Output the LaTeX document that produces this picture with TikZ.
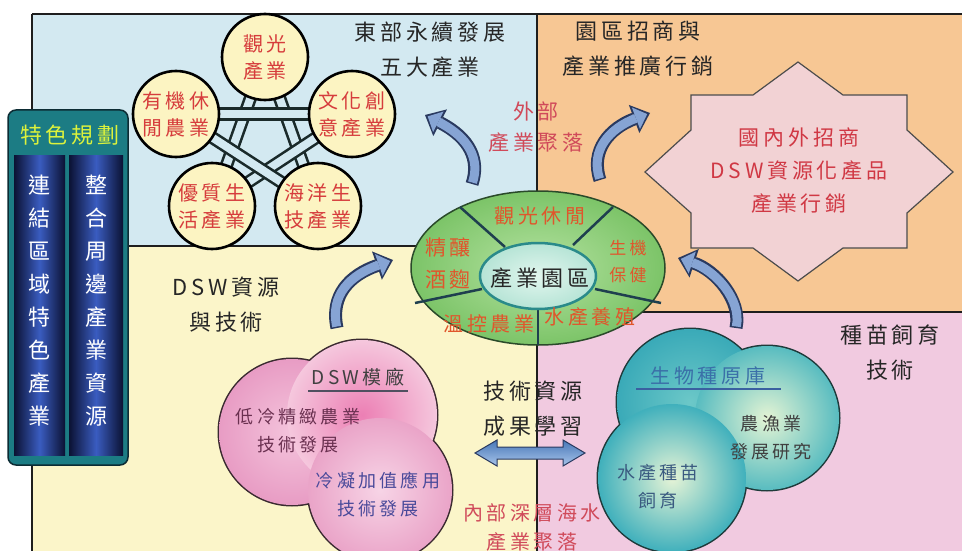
\documentclass[tikz,border=0pt]{standalone}
\usepackage{fontspec}
\newfontfamily\cjk[LetterSpace=18]{Noto Sans CJK TC}
\newfontfamily\cjkn{Noto Sans CJK TC}
\usetikzlibrary{arrows.meta}
\definecolor{qblue}{HTML}{D3E9F1}
\definecolor{qorange}{HTML}{F7C794}
\definecolor{qcream}{HTML}{FBF5C9}
\definecolor{qpink}{HTML}{F1CAE0}
\definecolor{cyel}{HTML}{FCF4C2}
\definecolor{tred}{HTML}{D63C3C}
\definecolor{ored}{HTML}{E0562C}
\definecolor{sred}{HTML}{D03844}
\definecolor{pred}{HTML}{D04A5A}
\definecolor{arrdark}{HTML}{2A3A60}
\definecolor{arrlight}{HTML}{86A4D4}
\definecolor{lineblk}{HTML}{1E1E1E}
\definecolor{starpink}{HTML}{F2D2D4}
\definecolor{stargreen}{HTML}{D6ECD2}
\definecolor{panelteal}{HTML}{1C7C84}
\definecolor{paneldark}{HTML}{0C2C34}
\definecolor{colnavy}{HTML}{0B1233}
\definecolor{colblue}{HTML}{3A5CC0}
\definecolor{ptitle}{HTML}{DCF23C}
\definecolor{elline}{HTML}{2A4A2A}
\definecolor{elin}{HTML}{B4E2A0}
\definecolor{elout}{HTML}{7CC468}
\definecolor{divdark}{HTML}{1F3F4F}
\definecolor{inline}{HTML}{2A8A8A}
\definecolor{inin}{HTML}{E2F6EE}
\definecolor{inout}{HTML}{B6E4D6}
\definecolor{pkline}{HTML}{3A2A30}
\definecolor{pkAi}{HTML}{F4C4DC}
\definecolor{pkAo}{HTML}{E89CC4}
\definecolor{pkBi}{HTML}{EC7FB4}
\definecolor{pkBo}{HTML}{F5C7DD}
\definecolor{pkDi}{HTML}{F7D4E6}
\definecolor{pkDo}{HTML}{EAA4C8}
\definecolor{tlline}{HTML}{1E3A3A}
\definecolor{tlEi}{HTML}{6CC8C8}
\definecolor{tlEo}{HTML}{3AAAB8}
\definecolor{tlFi}{HTML}{E4F4D4}
\definecolor{tlFo}{HTML}{58BCC0}
\definecolor{tlGi}{HTML}{E6F4D6}
\definecolor{tlGo}{HTML}{40B0BC}
\definecolor{dgray}{HTML}{404040}
\definecolor{ugray}{HTML}{505060}
\definecolor{lowc}{HTML}{6A3050}
\definecolor{condc}{HTML}{4A4A9A}
\definecolor{bioc}{HTML}{3A70A8}
\definecolor{biou}{HTML}{3A60A0}
\definecolor{seedc}{HTML}{3A5A80}
\definecolor{daTop}{HTML}{4878B8}
\definecolor{daBot}{HTML}{A8C4EA}
\definecolor{webline}{HTML}{1A2A2A}
\begin{document}
\begin{tikzpicture}[x=1pt,y=-1pt,
  ttl/.style={font=\cjk\fontsize{22}{35}\selectfont, align=center, inner sep=0pt, text=black!85},
  clab/.style={circle, draw=black, line width=2.6pt, fill=cyel, minimum size=86pt, inner sep=0pt, align=center, font=\cjk\fontsize{20}{27}\selectfont, text=tred},
  starline/.style={draw=webline, line width=2.6pt, double=qblue, double distance=8pt},
  elab/.style={font=\cjk\fontsize{20}{30}\selectfont, align=center, inner sep=0pt, text=ored},
  small/.style={font=\cjk\fontsize{18}{28}\selectfont, align=center, inner sep=0pt},
  vtxt/.style={font=\cjkn\fontsize{22}{33}\selectfont, align=center, inner sep=0pt, text=white},
  carrO/.style={line width=13pt, draw=arrdark, -{Triangle[width=30pt,length=17pt,line width=0pt]}},
  carrI/.style={line width=9pt, draw=arrlight, shorten >=3pt, shorten <=1.5pt, -{Triangle[width=23pt,length=12pt,line width=0pt]}},
  divider/.style={draw=lineblk, line width=1.2pt}
]
\useasboundingbox (0,0) rectangle (962,551);
\fill[white] (0,0) rectangle (962,551);
% quadrants
\fill[qblue] (32,14) rectangle (537,246);
\fill[qorange] (537,14) rectangle (962,312);
\fill[qcream] (32,246) rectangle (537,551);
\fill[qpink] (537,312) rectangle (962,551);
\coordinate (tl) at (32,14);
\coordinate (tr) at (962,14);
\coordinate (bl) at (32,551);
\coordinate (vt) at (537,14);
\coordinate (vb) at (537,551);
\coordinate (hl1) at (32,246);
\coordinate (hl2) at (537,246);
\coordinate (hr1) at (537,312);
\coordinate (hr2) at (962,312);
\draw[divider] (tl) -- (tr);
\draw[divider] (tl) -- (bl);
\draw[divider] (vt) -- (vb);
\draw[divider] (hl1) -- (hl2);
\draw[divider] (hr1) -- (hr2);

% pentagram
\coordinate (p1) at (265,57);
\coordinate (p2) at (352,114);
\coordinate (p3) at (318,206);
\coordinate (p4) at (212,206);
\coordinate (p5) at (176,114);
\draw[starline] (p1) -- (p3);
\draw[starline] (p1) -- (p4);
\draw[starline] (p2) -- (p4);
\draw[starline] (p2) -- (p5);
\draw[starline] (p3) -- (p5);
\node[clab] (c1) at (p1) {觀光\\產業};
\node[clab] (c2) at (p2) {文化創\\意產業};
\node[clab] (c3) at (p3) {海洋生\\技產業};
\node[clab] (c4) at (p4) {優質生\\活產業};
\node[clab] (c5) at (p5) {有機休\\閒農業};

\node[ttl] (t1) at (430,50) {東部永續發展\\五大產業};
\node[ttl] (t2) at (638,49) {園區招商與\\產業推廣行銷};
\node[ttl] (t3) at (226,305) {DSW資源\\與技術};
\node[ttl] (t4) at (890,353) {種苗飼育\\技術};
\node[ttl] (t5) at (533,409) {技術資源\\成果學習};
\node[ttl, text=pred, font=\cjk\fontsize{21}{31}\selectfont] (t6) at (536,127) {外部\\產業聚落};

% star
\path[draw=black!70, line width=1.2pt, top color=starpink, middle color=stargreen, bottom color=starpink]
  (798,62) -- (843,95) -- (907,95) -- (907,130) -- (953,172) -- (907,213) -- (907,248) -- (843,248)
  -- (798,281) -- (753,248) -- (691,248) -- (691,213) -- (645,172) -- (691,130) -- (691,95) -- (753,95) -- cycle;
\node[ttl, text=sred, font=\cjk\fontsize{21}{33}\selectfont] (st) at (799,171) {國內外招商\\DSW資源化產品\\產業行銷};

% left panel
\draw[fill=panelteal, draw=paneldark, line width=1.5pt, rounded corners=8pt] (8,110) rectangle (128,465);
\path[left color=colnavy, right color=colnavy, middle color=colblue] (14,155) rectangle (65,455);
\path[left color=colnavy, right color=colnavy, middle color=colblue] (69,155) rectangle (123,455);
\node[font=\cjk\fontsize{22}{26}\selectfont, text=ptitle, inner sep=0pt] (pt) at (70,135) {特色規劃};
\node[vtxt] (v1) at (39,301) {連\\結\\區\\域\\特\\色\\產\\業};
\node[vtxt] (v2) at (96,301) {整\\合\\周\\邊\\產\\業\\資\\源};

% centre ellipse
\path[draw=elline, line width=1.5pt, inner color=elin, outer color=elout] (538,268) ellipse[x radius=127pt, y radius=77pt];
\coordinate (d1a) at (460,207); \coordinate (d1b) at (505,247);
\coordinate (d2a) at (613,207); \coordinate (d2b) at (573,245);
\coordinate (d3a) at (415,303); \coordinate (d3b) at (482,289);
\coordinate (d4a) at (661,303); \coordinate (d4b) at (595,289);
\coordinate (d5a) at (538,300); \coordinate (d5b) at (538,345);
\draw[draw=divdark, line width=2.5pt] (d1a) -- (d1b);
\draw[draw=divdark, line width=2.5pt] (d2a) -- (d2b);
\draw[draw=divdark, line width=2.5pt] (d3a) -- (d3b);
\draw[draw=divdark, line width=2.5pt] (d4a) -- (d4b);
\draw[draw=divdark, line width=2.5pt] (d5a) -- (d5b);
\path[draw=inline, line width=2.5pt, inner color=inin, outer color=inout] (538,276) ellipse[x radius=58pt, y radius=33pt];
\node[ttl, font=\cjk\fontsize{22}{30}\selectfont] (park) at (540,278) {產業園區};
\node[elab] (e1) at (540,216) {觀光休閒};
\node[elab, font=\cjk\fontsize{21}{32}\selectfont] (e2) at (448,264) {精釀\\酒麴};
\node[elab, font=\cjk\fontsize{17}{27}\selectfont] (e3) at (628,262) {生機\\保健};
\node[elab] (e4) at (489,324) {溫控農業};
\node[elab] (e5) at (590,317) {水產養殖};

% curved arrows
\coordinate (a1s) at (472,184); \coordinate (a1e) at (425,115);
\coordinate (a2s) at (600,180); \coordinate (a2e) at (650,113);
\coordinate (a3s) at (337,328); \coordinate (a3e) at (393,260);
\coordinate (a4s) at (736,328); \coordinate (a4e) at (678,258);
\draw[carrO] (a1s) .. controls (480,160) and (470,138) .. (a1e);
\draw[carrI] (a1s) .. controls (480,160) and (470,138) .. (a1e);
\draw[carrO] (a2s) .. controls (590,150) and (610,128) .. (a2e);
\draw[carrI] (a2s) .. controls (590,150) and (610,128) .. (a2e);
\draw[carrO] (a3s) .. controls (330,295) and (350,275) .. (a3e);
\draw[carrI] (a3s) .. controls (330,295) and (350,275) .. (a3e);
\draw[carrO] (a4s) .. controls (742,300) and (715,270) .. (a4e);
\draw[carrI] (a4s) .. controls (742,300) and (715,270) .. (a4e);

% pink cloud
\draw[line width=3pt, draw=pkline] (292,432) circle[radius=73pt] (362,415) circle[radius=75pt] (380,490) circle[radius=72pt];
\shade[inner color=pkAi, outer color=pkAo] (292,432) circle[radius=73pt];
\shade[inner color=pkBi, outer color=pkBo] (362,415) circle[radius=75pt];
\shade[inner color=pkDi, outer color=pkDo] (380,490) circle[radius=72pt];
\node[small, font=\cjk\fontsize{19}{28}\selectfont, text=dgray] (dsw) at (358,377) {DSW模廠};
\coordinate (u1a) at (308,391); \coordinate (u1b) at (408,391);
\draw[draw=ugray, line width=1.5pt] (u1a) -- (u1b);
\node[small, text=lowc] (lt) at (298,431) {低冷精緻農業\\技術發展};
\node[small, text=condc] (cv) at (378,494) {冷凝加值應用\\技術發展};

% teal cloud
\draw[line width=3pt, draw=tlline] (690,402) circle[radius=73pt] (767,418) circle[radius=72pt] (672,478) circle[radius=74pt];
\shade[inner color=tlEi, outer color=tlEo] (690,402) circle[radius=73pt];
\shade[inner color=tlFi, outer color=tlFo] (767,418) circle[radius=72pt];
\shade[inner color=tlGi, outer color=tlGo] (672,478) circle[radius=74pt];
\node[small, font=\cjk\fontsize{20}{28}\selectfont, text=bioc] (bio) at (708,376) {生物種原庫};
\coordinate (u2a) at (636,389); \coordinate (u2b) at (781,389);
\draw[draw=biou, line width=2pt] (u2a) -- (u2b);
\node[small, text=dgray] (nf) at (771,438) {農漁業\\發展研究};
\node[small, text=seedc] (sc) at (658,487) {水產種苗\\飼育};

% double arrow
\path[draw=arrdark, line width=1pt, top color=daTop, bottom color=daBot]
  (475,453) -- (497,440) -- (497,447) -- (563,447) -- (563,440) -- (585,453) -- (563,466) -- (563,459) -- (497,459) -- (497,466) -- cycle;
\node[ttl, text=pred, font=\cjk\fontsize{20}{29}\selectfont] (inner) at (532,527) {內部深層海水\\產業聚落};
\end{tikzpicture}
\end{document}
